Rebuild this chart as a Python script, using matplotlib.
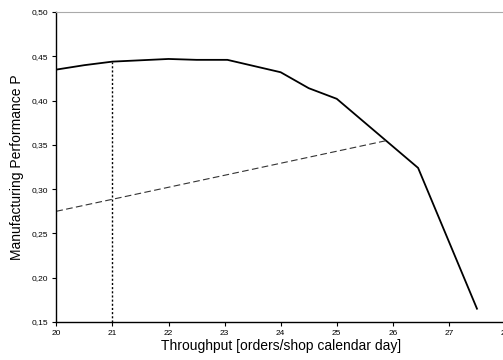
import numpy as np
import matplotlib.pyplot as plt

plt.rcParams['font.family'] = ['Liberation Sans', 'DejaVu Sans']

# performance curve
thr = [20.0, 20.5, 21.0, 22.0, 22.5, 23.05, 24.0, 24.5, 25.0, 26.45, 27.5]
perf = [0.435, 0.440, 0.444, 0.447, 0.446, 0.446, 0.432, 0.414, 0.402, 0.324, 0.165]

# dashed reference line
ref_x = [20.0, 25.9]
ref_y = [0.275, 0.355]

# dotted marker
mark_x = 21.0
mark_y = 0.444

xticks = [20, 21, 22, 23, 24, 25, 26, 27, 28]
yticks = [0.15, 0.20, 0.25, 0.30, 0.35, 0.40, 0.45, 0.50]

fig = plt.figure(figsize=(5.03, 3.6), dpi=100)
ax = fig.add_axes([0.112, 0.1056, 0.892, 0.861])

ax.plot(thr, perf, color='black', lw=1.3)
ax.plot(ref_x, ref_y, color='#333333', lw=0.8, ls=(0, (6, 3)))
ax.plot([mark_x, mark_x], [0.15, mark_y], color='black', lw=1.0, ls=(0, (1.5, 1.5)))

ax.set_xlim(20, 28)
ax.set_ylim(0.15, 0.50)
ax.set_xticks(xticks)
ax.set_yticks(yticks)
ax.set_yticklabels([('%.2f' % v).replace('.', ',') for v in yticks])
ax.tick_params(labelsize=6, length=3, width=0.8, pad=3)

ax.spines['top'].set_color('#aaaaaa')
ax.spines['right'].set_visible(False)
ax.spines['left'].set_linewidth(1.0)
ax.spines['bottom'].set_linewidth(1.0)

ax.set_xlabel('Throughput [orders/shop calendar day]', fontsize=10, labelpad=1)
ax.set_ylabel('Manufacturing Performance P', fontsize=10, labelpad=5)

fig.savefig('out.png', dpi=100)
